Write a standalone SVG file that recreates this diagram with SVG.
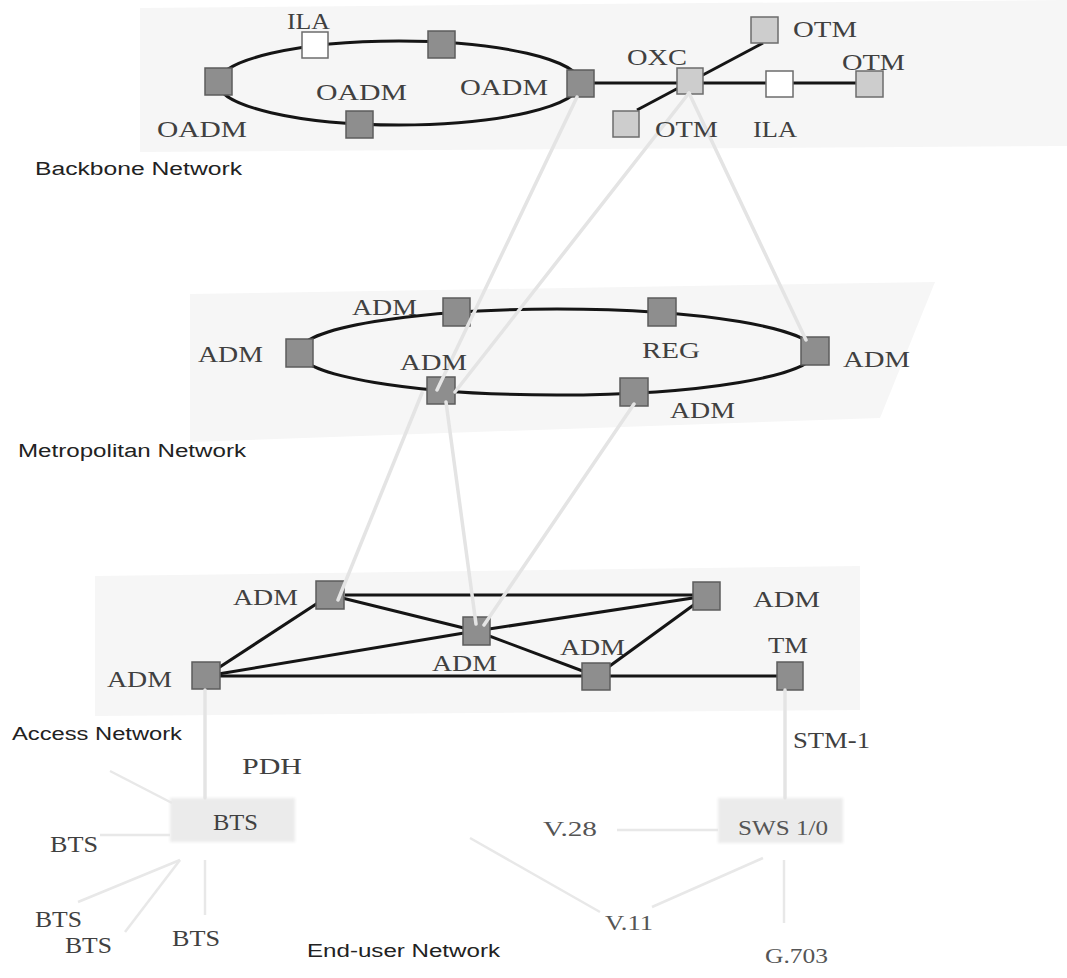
<svg xmlns="http://www.w3.org/2000/svg" width="1067" height="978" viewBox="0 0 1067 978">
  <defs>
    <style>
      .plane { fill: #f6f6f6; }
      .ring { fill: none; stroke: #151515; stroke-width: 3; }
      .link { stroke: #151515; stroke-width: 3; fill: none; }
      .xlink { stroke: #e4e4e4; stroke-width: 3.5; fill: none; stroke-linecap: round; }
      .ulink { stroke: #e8e8e8; stroke-width: 2.5; fill: none; }
      .dark { fill: #8e8e8e; stroke: #5c5c5c; stroke-width: 1.5; }
      .lite { fill: #cdcdcd; stroke: #6c6c6c; stroke-width: 1.5; }
      .blank { fill: #ffffff; stroke: #6c6c6c; stroke-width: 1.5; }
      .panel { fill: #ebebeb; filter: url(#soft); }
      .lbl { font-family: "Liberation Serif", "Times New Roman", serif; font-size: 23px; fill: #404040; }
      .lbl2 { font-family: "Liberation Serif", "Times New Roman", serif; font-size: 22px; fill: #555555; }
      .net { font-family: "Liberation Sans", Arial, sans-serif; font-size: 18px; fill: #222222; }
    </style>
    <filter id="soft" x="-10%" y="-20%" width="120%" height="140%">
      <feGaussianBlur stdDeviation="1.5"/>
    </filter>
  </defs>

  <rect width="1067" height="978" fill="#ffffff"/>

  <!-- layer planes -->
  <g id="planes">
    <polygon class="plane" points="140,8 1067,0 1067,146 140,152"/>
    <polygon class="plane" points="190,294 935,282 880,418 190,442"/>
    <polygon class="plane" points="95,576 860,566 860,710 95,716"/>
  </g>

  <!-- rings and links inside each layer -->
  <g id="links">
    <ellipse class="ring" cx="399" cy="83" rx="181" ry="42"/>
    <line class="link" x1="593" y1="83" x2="860" y2="83"/>
    <line class="link" x1="637" y1="110" x2="763" y2="43"/>

    <ellipse class="ring" cx="557" cy="352" rx="258" ry="43"/>

    <line class="link" x1="345" y1="595" x2="706" y2="595"/>
    <line class="link" x1="206" y1="676" x2="330" y2="595"/>
    <line class="link" x1="206" y1="676" x2="476" y2="631"/>
    <line class="link" x1="206" y1="676" x2="790" y2="676"/>
    <line class="link" x1="330" y1="595" x2="476" y2="631"/>
    <line class="link" x1="476" y1="631" x2="596" y2="676"/>
    <line class="link" x1="476" y1="631" x2="706" y2="596"/>
    <line class="link" x1="706" y1="596" x2="596" y2="676"/>
  </g>

  <!-- backbone nodes -->
  <g id="bb-oadm-l"><rect class="dark" x="205" y="68" width="27" height="27"/></g>
  <g id="bb-ila-1"><rect class="blank" x="302" y="32" width="26" height="26"/></g>
  <g id="bb-oadm-t"><rect class="dark" x="428" y="31" width="27" height="27"/></g>
  <g id="bb-oadm-b"><rect class="dark" x="346" y="111" width="27" height="27"/></g>
  <g id="bb-oadm-r"><rect class="dark" x="567" y="70" width="27" height="27"/></g>
  <g id="bb-oxc"><rect class="lite" x="677" y="68" width="26" height="26"/></g>
  <g id="bb-otm-top"><rect class="lite" x="751" y="17" width="27" height="26"/></g>
  <g id="bb-otm-bl"><rect class="lite" x="613" y="111" width="26" height="26"/></g>
  <g id="bb-ila-2"><rect class="blank" x="766" y="71" width="27" height="26"/></g>
  <g id="bb-otm-r"><rect class="lite" x="856" y="71" width="27" height="26"/></g>

  <!-- metropolitan nodes -->
  <g id="mt-adm-t"><rect class="dark" x="443" y="298" width="27" height="28"/></g>
  <g id="mt-adm-l"><rect class="dark" x="286" y="339" width="27" height="28"/></g>
  <g id="mt-adm-b"><rect class="dark" x="427" y="377" width="28" height="27"/></g>
  <g id="mt-reg"><rect class="dark" x="648" y="298" width="28" height="28"/></g>
  <g id="mt-adm-r"><rect class="dark" x="801" y="337" width="28" height="28"/></g>
  <g id="mt-adm-br"><rect class="dark" x="620" y="378" width="28" height="28"/></g>

  <!-- access nodes -->
  <g id="ac-adm-tl"><rect class="dark" x="316" y="581" width="28" height="28"/></g>
  <g id="ac-adm-l"><rect class="dark" x="192" y="662" width="28" height="27"/></g>
  <g id="ac-adm-m"><rect class="dark" x="463" y="617" width="27" height="28"/></g>
  <g id="ac-adm-tr"><rect class="dark" x="693" y="582" width="27" height="28"/></g>
  <g id="ac-adm-bm"><rect class="dark" x="582" y="663" width="28" height="27"/></g>
  <g id="ac-tm"><rect class="dark" x="777" y="662" width="26" height="28"/></g>

  <!-- end-user nodes -->
  <g id="eu-bts"><rect class="panel" x="170" y="798" width="125" height="44"/></g>
  <g id="eu-sws"><rect class="panel" x="718" y="798" width="125" height="45"/></g>

  <!-- links between layers and end-user attachments -->
  <g id="connectors">
    <line class="xlink" x1="577" y1="97" x2="437" y2="390"/>
    <line class="xlink" x1="689" y1="93" x2="455" y2="392"/>
    <line class="xlink" x1="689" y1="93" x2="806" y2="340"/>
    <line class="xlink" x1="422" y1="393" x2="338" y2="600"/>
    <line class="xlink" x1="446" y1="402" x2="476" y2="624"/>
    <line class="xlink" x1="634" y1="404" x2="484" y2="625"/>
    <line class="xlink" x1="205" y1="690" x2="205" y2="798"/>
    <line class="xlink" x1="785" y1="690" x2="785" y2="798"/>

    <line class="ulink" x1="100" y1="835" x2="170" y2="835"/>
    <line class="ulink" x1="110" y1="771" x2="172" y2="803"/>
    <line class="ulink" x1="180" y1="860" x2="78" y2="902"/>
    <line class="ulink" x1="180" y1="860" x2="125" y2="932"/>
    <line class="ulink" x1="205" y1="860" x2="205" y2="915"/>
    <line class="ulink" x1="617" y1="830" x2="718" y2="830"/>
    <line class="ulink" x1="763" y1="858" x2="652" y2="907"/>
    <line class="ulink" x1="784" y1="860" x2="784" y2="923"/>
    <line class="ulink" x1="470" y1="838" x2="600" y2="912" stroke="#f0f0f0"/>
  </g>

  <!-- labels -->
  <g id="labels">
    <text class="lbl" x="287" y="29" textLength="43" lengthAdjust="spacingAndGlyphs">ILA</text>
    <text class="lbl" x="157" y="137" textLength="90" lengthAdjust="spacingAndGlyphs">OADM</text>
    <text class="lbl" x="316" y="100" textLength="91" lengthAdjust="spacingAndGlyphs">OADM</text>
    <text class="lbl" x="460" y="95" textLength="88" lengthAdjust="spacingAndGlyphs">OADM</text>
    <text class="lbl" x="627" y="65" textLength="60" lengthAdjust="spacingAndGlyphs">OXC</text>
    <text class="lbl" x="793" y="37" textLength="64" lengthAdjust="spacingAndGlyphs">OTM</text>
    <text class="lbl" x="842" y="70" textLength="63" lengthAdjust="spacingAndGlyphs">OTM</text>
    <text class="lbl" x="655" y="137" textLength="63" lengthAdjust="spacingAndGlyphs">OTM</text>
    <text class="lbl" x="753" y="137" textLength="44" lengthAdjust="spacingAndGlyphs">ILA</text>

    <text class="lbl" x="352" y="315" textLength="65" lengthAdjust="spacingAndGlyphs">ADM</text>
    <text class="lbl" x="198" y="362" textLength="65" lengthAdjust="spacingAndGlyphs">ADM</text>
    <text class="lbl" x="400" y="370" textLength="67" lengthAdjust="spacingAndGlyphs">ADM</text>
    <text class="lbl" x="642" y="358" textLength="58" lengthAdjust="spacingAndGlyphs">REG</text>
    <text class="lbl" x="843" y="367" textLength="67" lengthAdjust="spacingAndGlyphs">ADM</text>
    <text class="lbl" x="670" y="418" textLength="65" lengthAdjust="spacingAndGlyphs">ADM</text>

    <text class="lbl" x="233" y="605" textLength="65" lengthAdjust="spacingAndGlyphs">ADM</text>
    <text class="lbl" x="107" y="687" textLength="65" lengthAdjust="spacingAndGlyphs">ADM</text>
    <text class="lbl" x="432" y="671" textLength="65" lengthAdjust="spacingAndGlyphs">ADM</text>
    <text class="lbl" x="753" y="607" textLength="67" lengthAdjust="spacingAndGlyphs">ADM</text>
    <text class="lbl" x="560" y="655" textLength="65" lengthAdjust="spacingAndGlyphs">ADM</text>
    <text class="lbl" x="768" y="653" textLength="40" lengthAdjust="spacingAndGlyphs">TM</text>
    <text class="lbl" x="793" y="748" textLength="77" lengthAdjust="spacingAndGlyphs">STM-1</text>
    <text class="lbl" x="242" y="774" textLength="60" lengthAdjust="spacingAndGlyphs">PDH</text>

    <text class="lbl" x="213" y="830" textLength="45" lengthAdjust="spacingAndGlyphs">BTS</text>
    <text class="lbl" x="50" y="852" textLength="48" lengthAdjust="spacingAndGlyphs">BTS</text>
    <text class="lbl" x="35" y="927" textLength="47" lengthAdjust="spacingAndGlyphs">BTS</text>
    <text class="lbl" x="65" y="953" textLength="47" lengthAdjust="spacingAndGlyphs">BTS</text>
    <text class="lbl" x="172" y="946" textLength="48" lengthAdjust="spacingAndGlyphs">BTS</text>
    <text class="lbl2" x="738" y="835" textLength="90" lengthAdjust="spacingAndGlyphs">SWS 1/0</text>
    <text class="lbl2" x="543" y="836" textLength="54" lengthAdjust="spacingAndGlyphs">V.28</text>
    <text class="lbl2" x="605" y="930" textLength="48" lengthAdjust="spacingAndGlyphs">V.11</text>
    <text class="lbl2" x="765" y="963" textLength="63" lengthAdjust="spacingAndGlyphs">G.703</text>

    <text class="net" x="35" y="175" textLength="207" lengthAdjust="spacingAndGlyphs">Backbone Network</text>
    <text class="net" x="18" y="457" textLength="228" lengthAdjust="spacingAndGlyphs">Metropolitan Network</text>
    <text class="net" x="12" y="740" textLength="170" lengthAdjust="spacingAndGlyphs">Access Network</text>
    <text class="net" x="307" y="957" textLength="193" lengthAdjust="spacingAndGlyphs">End-user Network</text>
  </g>
</svg>
